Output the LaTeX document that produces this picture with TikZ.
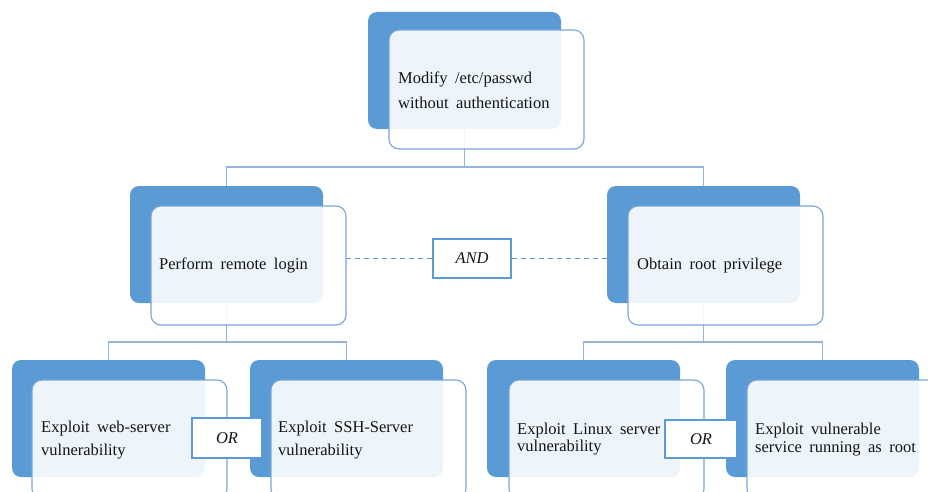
\documentclass[tikz,border=0pt]{standalone}
\usepackage{fontspec}
\setmainfont{Liberation Serif}
\definecolor{cblue}{RGB}{91,155,213}
\definecolor{cline}{RGB}{120,165,215}
\definecolor{cconn}{RGB}{150,180,215}
\definecolor{ctext}{RGB}{20,20,20}
\newcommand{\lblfont}{\fontsize{16.5}{20}\selectfont\spaceskip=0.45em plus 0.1em\relax}
\begin{document}
\begin{tikzpicture}[x=1pt,y=-1pt,
  back/.style={anchor=north west, fill=cblue, draw=none, rounded corners=9pt,
    minimum width=193pt, minimum height=117pt, inner sep=0pt, outer sep=0pt},
  front/.style={anchor=north west, fill=white, fill opacity=0.9, draw=cline,
    line width=1.1pt, rounded corners=10pt, minimum width=195pt,
    minimum height=119pt, inner sep=0pt, outer sep=0pt},
  lbl/.style={anchor=base west, inner sep=0pt, font=\lblfont, text=ctext},
  gate/.style={draw=cblue, line width=2.2pt, fill=white, inner sep=0pt,
    font=\lblfont\itshape, text=ctext},
  conn/.style={draw=cconn, line width=1.4pt},
  dashlink/.style={draw=cblue, line width=1.2pt, dash pattern=on 5pt off 4pt}]
\useasboundingbox (0,0) rectangle (928,492);
\clip (0,0) rectangle (928,492);
% back boxes
\node[back] (b0) at (368,12) {};
\node[back] (b1) at (130,186) {};
\node[back] (b2) at (607,186) {};
\node[back] (b3) at (12,360) {};
\node[back] (b4) at (250,360) {};
\node[back] (b5) at (487,360) {};
\node[back] (b6) at (726,360) {};
% connectors
\coordinate (h0) at (465,167);
\coordinate (h1) at (227,342);
\coordinate (h2) at (703,342);
\draw[conn] (b0.south) -- (b0.south |- h0);
\draw[conn] (b1.north) |- (h0) -| (b2.north);
\draw[conn] (b1.south) -- (b1.south |- h1);
\draw[conn] (b3.north) |- (h1) -| (b4.north);
\draw[conn] (b2.south) -- (b2.south |- h2);
\draw[conn] (b5.north) |- (h2) -| (b6.north);
% front boxes
\node[front] (f0) at (389,30) {};
\node[front] (f1) at (151,206) {};
\node[front] (f2) at (628,206) {};
\node[front] (f3) at (32,380) {};
\node[front] (f4) at (271,380) {};
\node[front] (f5) at (509,380) {};
\node[front] (f6) at (747,380) {};
% gates
\node[gate, minimum width=78pt, minimum height=39pt] (and) at (472,258.5) {AND};
\node[gate, minimum width=70pt, minimum height=40pt] (or1) at (227,438) {OR};
\node[gate, minimum width=72pt, minimum height=38pt] (or2) at (701,439) {OR};
\draw[dashlink] (and.west) -- (and.west -| f1.east);
\draw[dashlink] (and.east) -- (and.east -| b2.west);
% labels
\node[lbl] (t0a) at (398,84) {Modify /etc/passwd};
\node[lbl] (t0b) at (398,109) {without authentication};
\node[lbl] (t1) at (159,269) {Perform remote login};
\node[lbl] (t2) at (637,269) {Obtain root privilege};
\node[lbl] (t3a) at (41,432) {Exploit web-server};
\node[lbl] (t3b) at (41,455) {vulnerability};
\node[lbl] (t4a) at (278,432) {Exploit SSH-Server};
\node[lbl] (t4b) at (278,455) {vulnerability};
\node[lbl] (t5a) at (517,434) {Exploit Linux server};
\node[lbl] (t5b) at (517,451) {vulnerability};
\node[lbl] (t6a) at (755,434) {Exploit vulnerable};
\node[lbl] (t6b) at (755,452) {service running as root};
\end{tikzpicture}
\end{document}
